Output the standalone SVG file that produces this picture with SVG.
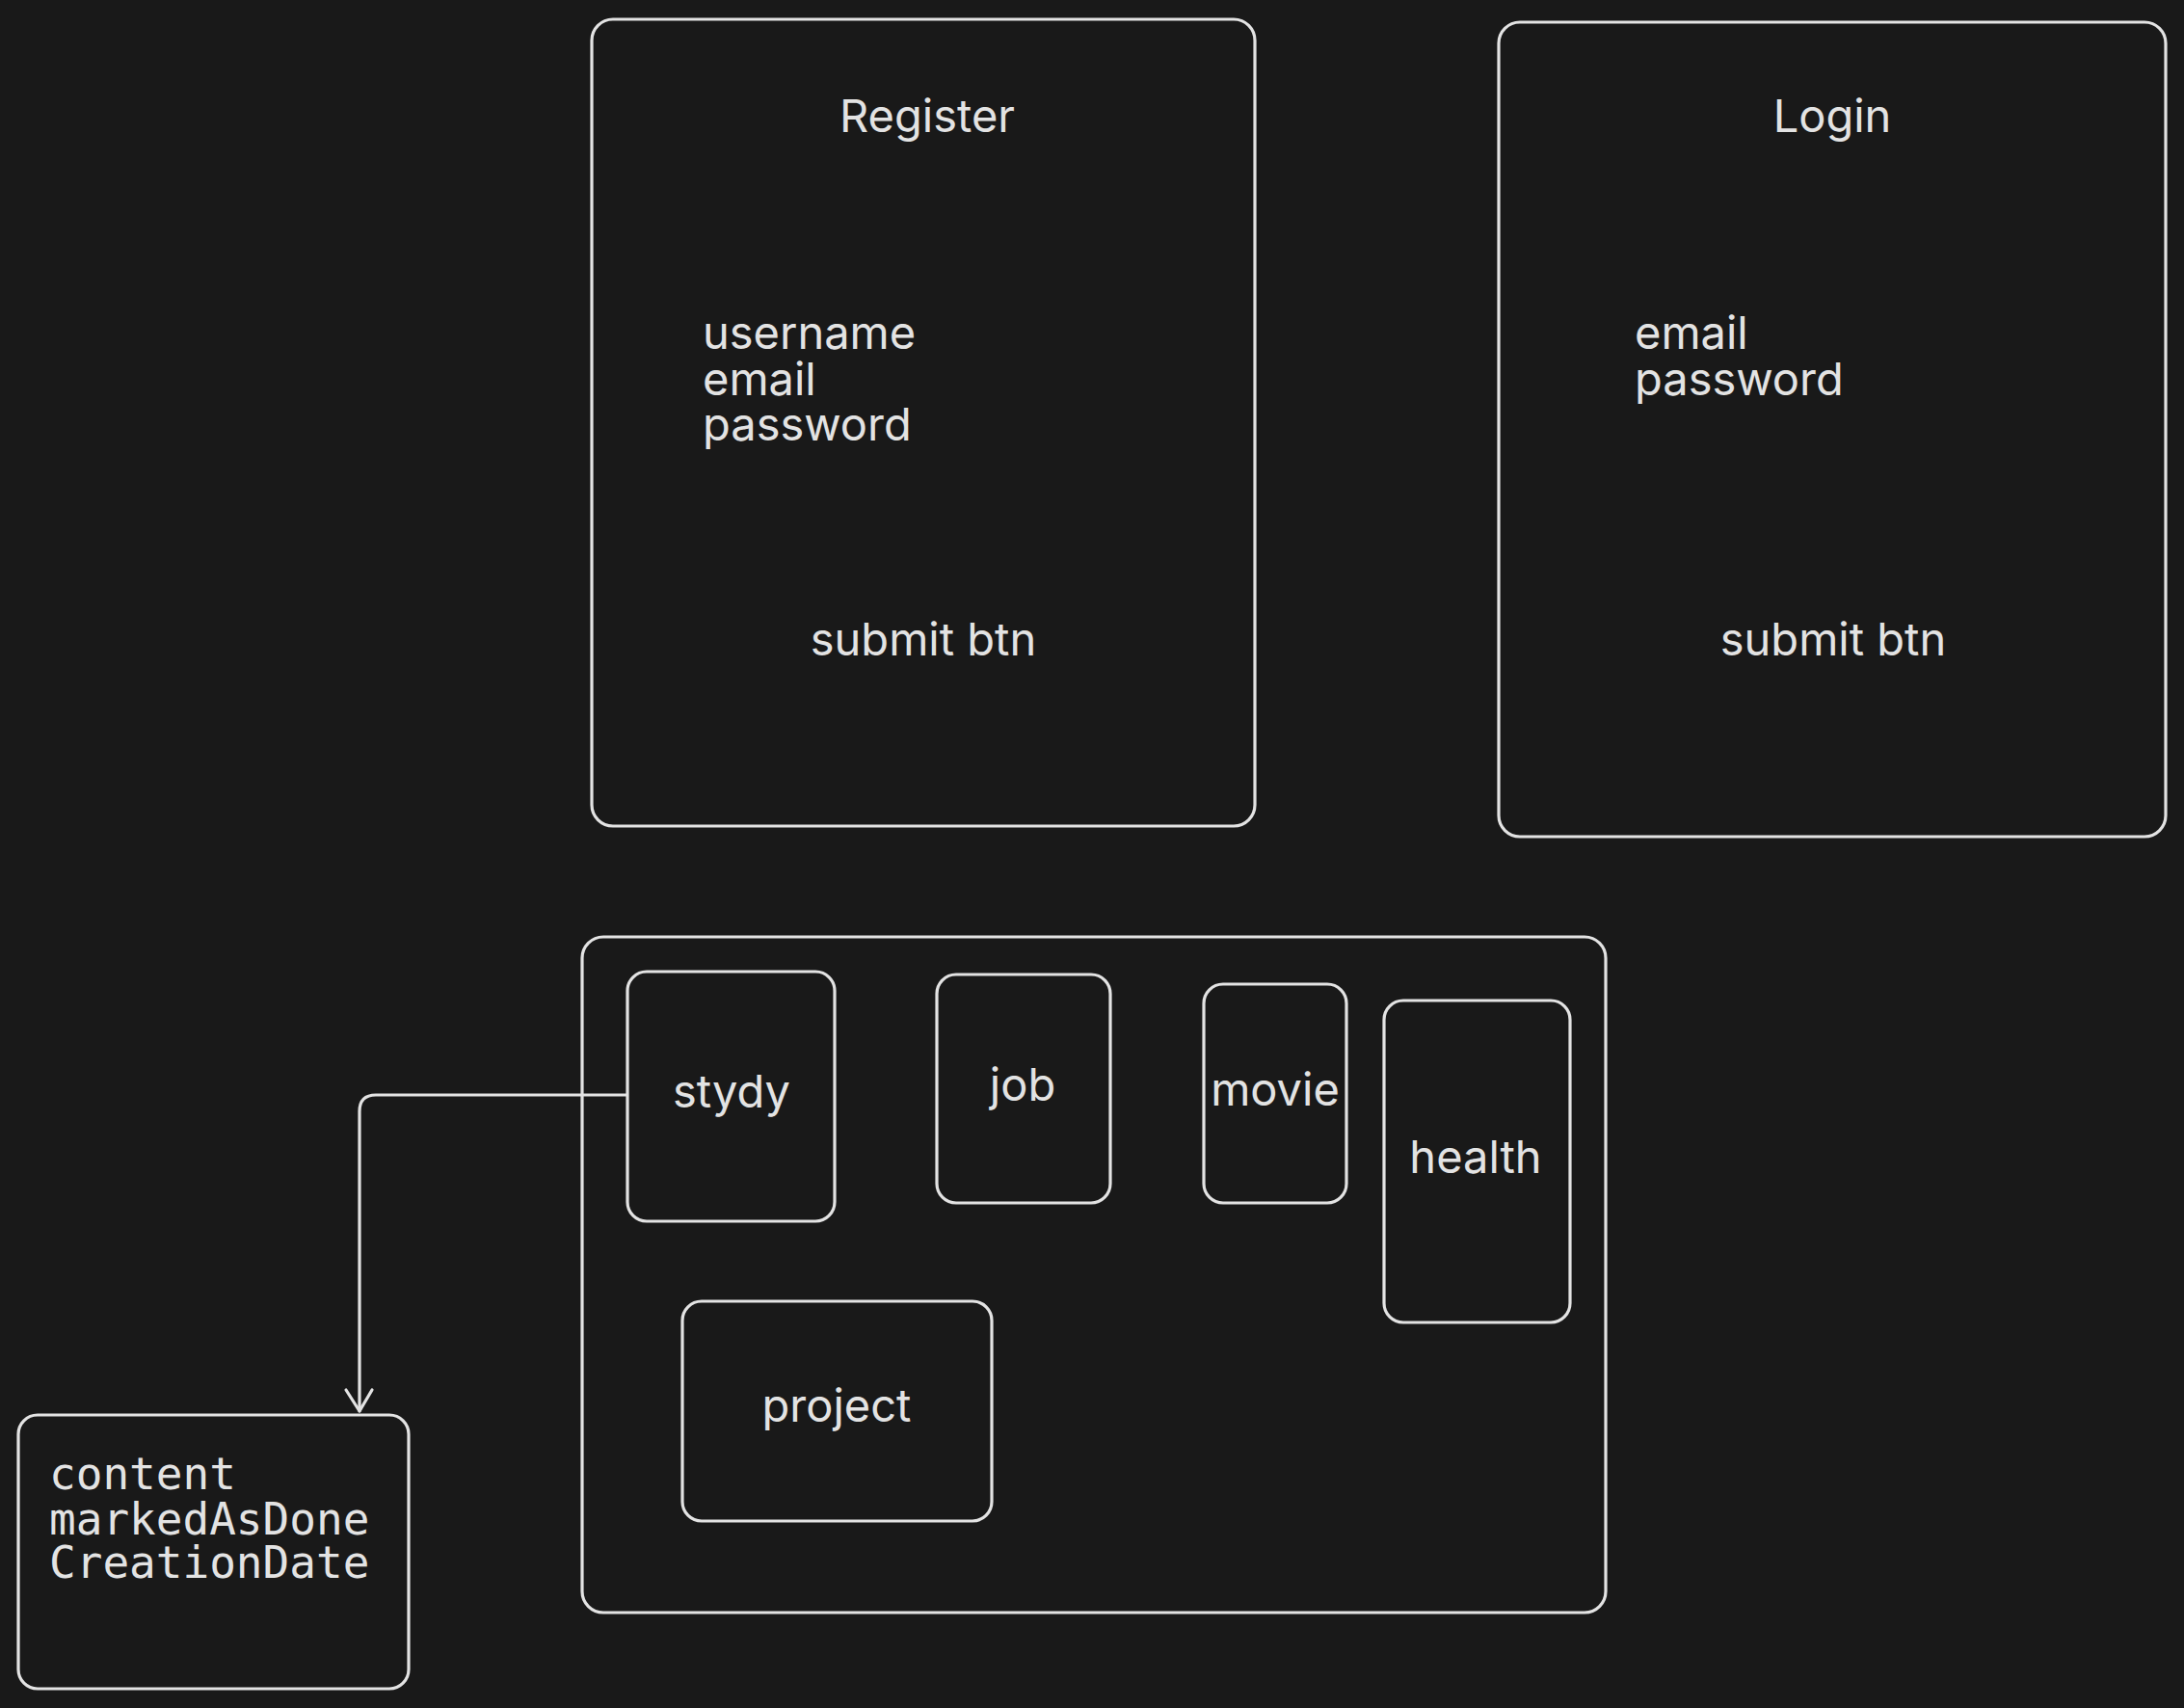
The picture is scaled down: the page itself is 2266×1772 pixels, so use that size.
<svg xmlns="http://www.w3.org/2000/svg" width="2266" height="1772" viewBox="0 0 2266 1772">
<style>
.box{fill:none;stroke:#e3e3e3;stroke-width:3.2;stroke-linejoin:round;stroke-linecap:round}
.t{font-family:Inter,"Noto Sans","Liberation Sans",sans-serif;font-size:47px;fill:#e3e3e3}
.c{text-anchor:middle}
.m{font-family:"DejaVu Sans Mono","Liberation Mono",monospace;font-size:46px;fill:#e3e3e3}
.conn{fill:none;stroke:#e3e3e3;stroke-width:3.2;stroke-linecap:round;stroke-linejoin:round}
</style>
<rect width="2266" height="1772" fill="#191919"/>
<g id="register">
<rect class="box" x="614" y="20" width="688" height="837" rx="22"/>
<text class="t c" x="962" y="137">Register</text>
<text class="t" x="729" y="362">username<tspan x="729" dy="48">email</tspan><tspan x="729" dy="47">password</tspan></text>
<text class="t c" x="958" y="680">submit btn</text>
</g>
<g id="login">
<rect class="box" x="1555" y="23" width="692" height="845" rx="22"/>
<text class="t c" x="1901" y="137">Login</text>
<text class="t" x="1696" y="362">email<tspan x="1696" dy="48">password</tspan></text>
<text class="t c" x="1902" y="680">submit btn</text>
</g>
<g id="container">
<rect class="box" x="604" y="972" width="1062" height="701" rx="22"/>
</g>
<g id="stydy">
<rect class="box" x="651" y="1008" width="215" height="259" rx="20"/>
<text class="t c" x="759" y="1149">stydy</text>
</g>
<g id="job">
<rect class="box" x="972" y="1011" width="180" height="237" rx="20"/>
<text class="t c" x="1061" y="1142">job</text>
</g>
<g id="movie">
<rect class="box" x="1249" y="1021" width="148" height="227" rx="20"/>
<text class="t c" x="1323" y="1147">movie</text>
</g>
<g id="health">
<rect class="box" x="1436" y="1038" width="193" height="334" rx="20"/>
<text class="t c" x="1531" y="1217">health</text>
</g>
<g id="project">
<rect class="box" x="708" y="1350" width="321" height="228" rx="20"/>
<text class="t c" x="868" y="1475">project</text>
</g>
<g id="task">
<rect class="box" x="19" y="1468" width="405" height="284" rx="20"/>
<text class="m" x="51" y="1545">content<tspan x="51" dy="47">markedAsDone</tspan><tspan x="51" dy="45">CreationDate</tspan></text>
</g>
<g id="connectors">
<path class="conn" d="M650 1136 L390 1136 Q373 1136 373 1153 L373 1464"/>
<path class="conn" d="M359 1442 L373 1464 L386 1442"/>
</g>
</svg>
